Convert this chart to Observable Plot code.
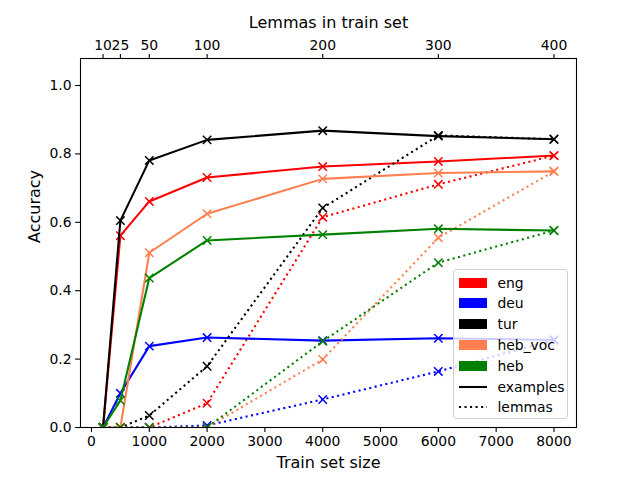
<!DOCTYPE html>
<html>
<head>
<meta charset="utf-8">
<script src="https://cdn.jsdelivr.net/npm/d3@7"></script>
<script src="https://cdn.jsdelivr.net/npm/@observablehq/plot@0.6"></script>
<style>
  body { margin: 0; background: white; }
  #wrap { position: relative; width: 640px; height: 480px; font-family: "DejaVu Sans", sans-serif; }
  #legend { position: absolute; left: 452.5px; top: 269px; width: 115px; height: 150px;
    border: 1px solid #d0d0d0; border-radius: 3px; background: rgba(255,255,255,0.8); box-sizing: border-box; }
  .row { position: absolute; left: 0; height: 16px; display: flex; align-items: center; font-size: 13.9px; color: black; }
  .sw { width: 28px; height: 10px; margin-left: 5px; margin-right: 11px; }
</style>
</head>
<body>
<div id="wrap"></div>
<script>
const trainSizes = [200, 500, 1000, 2000, 4000, 6000, 8000];
const lemmaTickLabels = ["10", "25", "50", "100", "200", "300", "400"];
const langs = ["eng", "deu", "tur", "heb_voc", "heb"];
const langColors = ["red", "blue", "black", "coral", "green"];

const engExamples    = [0, 0.561, 0.661, 0.731, 0.763, 0.778, 0.795];
const deuExamples    = [0, 0.100, 0.238, 0.263, 0.254, 0.261, 0.256];
const turExamples    = [0, 0.605, 0.781, 0.841, 0.868, 0.852, 0.843];
const hebVocExamples = [0, 0, 0.511, 0.625, 0.727, 0.744, 0.749];
const hebExamples    = [0, 0.079, 0.437, 0.547, 0.564, 0.581, 0.576];

const engLemmas    = [0, 0, 0, 0.071, 0.615, 0.711, 0.795];
const deuLemmas    = [0, 0, 0, 0.006, 0.082, 0.164, 0.256];
const turLemmas    = [0, 0, 0.035, 0.179, 0.642, 0.854, 0.843];
const hebVocLemmas = [0, 0, 0, 0, 0.199, 0.555, 0.749];
const hebLemmas    = [0, 0, 0, 0, 0.252, 0.482, 0.576];

const yTicks = [0, 0.2, 0.4, 0.6, 0.8, 1.0];
const xTicks = [0, 1000, 2000, 3000, 4000, 5000, 6000, 7000, 8000];

const series = [
  {lang: "eng", kind: "examples", values: engExamples},
  {lang: "eng", kind: "lemmas", values: engLemmas},
  {lang: "deu", kind: "examples", values: deuExamples},
  {lang: "deu", kind: "lemmas", values: deuLemmas},
  {lang: "tur", kind: "examples", values: turExamples},
  {lang: "tur", kind: "lemmas", values: turLemmas},
  {lang: "heb_voc", kind: "examples", values: hebVocExamples},
  {lang: "heb_voc", kind: "lemmas", values: hebVocLemmas},
  {lang: "heb", kind: "examples", values: hebExamples},
  {lang: "heb", kind: "lemmas", values: hebLemmas}
];

const seriesMarks = series.flatMap(s => {
  const rows = trainSizes.map((x, i) => ({x, y: s.values[i], lang: s.lang}));
  const dotted = s.kind === "lemmas";
  return [
    Plot.line(rows, {x: "x", y: "y", stroke: "lang", strokeWidth: 2.08, clip: true,
      strokeLinecap: dotted ? "butt" : "square",
      strokeDasharray: dotted ? "2.08,3.44" : null}),
    Plot.dot(rows, {x: "x", y: "y", stroke: "lang", symbol: "times", r: 3.9, strokeWidth: 1.5, clip: true})
  ];
});

const chart = Plot.plot({
  width: 640, height: 480,
  marginLeft: 80, marginRight: 64, marginTop: 58, marginBottom: 53,
  style: {fontFamily: "DejaVu Sans", fontSize: "13.9px", color: "black", background: "white"},
  x: {domain: [-190, 8390]},
  y: {domain: [0, 1.079]},
  color: {domain: langs, range: langColors},
  marks: [
    ...seriesMarks,
    Plot.frame({stroke: "black", strokeWidth: 1.1}),
    Plot.axisX({anchor: "bottom", ticks: xTicks, tickFormat: d => String(d), tickSize: 4.9, tickPadding: 4, strokeWidth: 1.1, label: null, fontSize: 13.9}),
    Plot.axisX({anchor: "top", ticks: trainSizes, tickFormat: d => lemmaTickLabels[trainSizes.indexOf(d)], tickSize: 4.9, tickPadding: 4, strokeWidth: 1.1, label: null, fontSize: 13.9}),
    Plot.axisY({anchor: "left", ticks: yTicks, tickFormat: d3.format(".1f"), tickSize: 4.9, tickPadding: 4, strokeWidth: 1.1, label: null, fontSize: 13.9}),
    Plot.text(["Train set size"], {frameAnchor: "bottom", lineAnchor: "middle", dy: 35, fontSize: 16}),
    Plot.text(["Lemmas in train set"], {frameAnchor: "top", lineAnchor: "middle", dy: -36, fontSize: 16}),
    Plot.text(["Accuracy"], {frameAnchor: "left", dx: -46, rotate: -90, fontSize: 16})
  ]
});

const wrap = document.getElementById("wrap");
wrap.appendChild(chart);

const legend = document.createElement("div");
legend.id = "legend";
const items = langs.map((l, i) => ({label: l, color: langColors[i], type: "patch"}))
  .concat([{label: "examples", type: "solid"}, {label: "lemmas", type: "dotted"}]);
items.forEach((it, i) => {
  const row = document.createElement("div");
  row.className = "row";
  row.style.top = (12.5 + i * 20.8 - 8) + "px";
  let sw;
  if (it.type === "patch") {
    sw = `<div class="sw" style="background:${it.color}"></div>`;
  } else {
    sw = `<svg class="sw" width="28" height="10"><line x1="0" x2="28" y1="5" y2="5" stroke="black" stroke-width="2.08" stroke-linecap="butt" ${it.type === "dotted" ? 'stroke-dasharray="2.08,3.44"' : ""}/></svg>`;
  }
  row.innerHTML = sw + `<span>${it.label}</span>`;
  legend.appendChild(row);
});
wrap.appendChild(legend);
</script>
</body>
</html>
